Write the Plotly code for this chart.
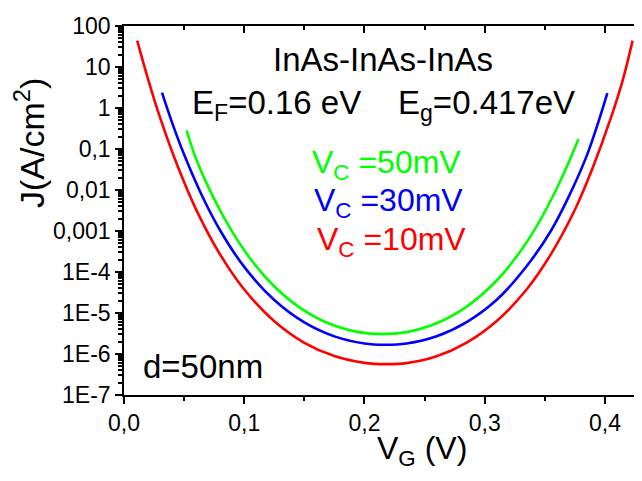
import plotly.graph_objects as go

# ---- data (V_G in V, J in A/cm^2) ----
vg_10 = [0.011, 0.020, 0.030, 0.045, 0.060, 0.080, 0.100, 0.125, 0.150, 0.175, 0.200, 0.217,
         0.235, 0.260, 0.285, 0.310, 0.335, 0.355, 0.375, 0.390, 0.405, 0.415, 0.423]
j_10 = [44, 5.05, 0.58, 0.0357, 0.00333, 2.65e-4, 3.74e-5, 6.28e-6, 1.88e-6, 8.9e-7, 6.08e-7, 5.66e-7,
        6.0e-7, 8.8e-7, 1.9e-6, 6.4e-6, 3.8e-5, 2.7e-4, 3.3e-3, 0.036, 0.58, 5.0, 44]

vg_30 = [0.0316, 0.040, 0.050, 0.065, 0.080, 0.100, 0.125, 0.150, 0.175, 0.200, 0.217,
         0.235, 0.260, 0.285, 0.310, 0.335, 0.355, 0.370, 0.385, 0.395, 0.402]
j_30 = [2.37, 0.44, 0.073, 0.00714, 1.03e-3, 1.33e-4, 2.07e-5, 5.89e-6, 2.69e-6, 1.80e-6, 1.68e-6,
        1.8e-6, 2.7e-6, 6.0e-6, 2.1e-5, 1.4e-4, 1.0e-3, 7.0e-3, 0.07, 0.5, 2.3]

vg_50 = [0.052, 0.060, 0.070, 0.085, 0.100, 0.120, 0.145, 0.170, 0.195, 0.215,
         0.235, 0.260, 0.285, 0.310, 0.330, 0.345, 0.360, 0.370, 0.378]
j_50 = [0.285, 0.0568, 0.0121, 1.71e-3, 3.38e-4, 6.30e-5, 1.43e-5, 5.6e-6, 3.42e-6, 3.05e-6,
        3.42e-6, 5.6e-6, 1.43e-5, 6.2e-5, 3.3e-4, 1.6e-3, 0.011, 0.048, 0.175]

x_ticks = [0.0, 0.1, 0.2, 0.3, 0.4]
y_ticks = [1e-7, 1e-6, 1e-5, 1e-4, 1e-3, 1e-2, 1e-1, 1, 10, 100]
y_ticktext = ['1E-7', '1E-6', '1E-5', '1E-4', '0,001', '0,01', '0,1', '1', '10', '100']
y_minor = [m * d for d in [1e-7, 1e-6, 1e-5, 1e-4, 1e-3, 1e-2, 1e-1, 1, 10] for m in range(2, 10)]

FONT = "Liberation Sans, Arial, sans-serif"
W, H = 642, 481
OFF = 8  # page body margin of the browser
# plot area in screen pixels
L_S, R_S, T_S, B_S = 124, 641.5, 13, 395
L, R, T, B = L_S - OFF, R_S - OFF, T_S - OFF, B_S - OFF


def px(x):
    return (x - OFF - L) / (R - L)


def py(y):
    return (B - (y - OFF)) / (B - T)


fig = go.Figure()
fig.add_trace(go.Scatter(x=vg_10, y=j_10, mode='lines', line=dict(color='#FF0000', width=2.6, shape='spline'),
                         showlegend=False))
fig.add_trace(go.Scatter(x=vg_30, y=j_30, mode='lines', line=dict(color='#0000FF', width=2.6, shape='spline'),
                         showlegend=False))
fig.add_trace(go.Scatter(x=vg_50, y=j_50, mode='lines', line=dict(color='#00FF00', width=2.6, shape='spline'),
                         showlegend=False))
fig.add_trace(go.Scatter(x=[None], y=[None], xaxis='x2', yaxis='y2', showlegend=False))

axis_common = dict(showgrid=False, zeroline=False, showline=True, linecolor='black', linewidth=1.5,
                   tickcolor='black', tickwidth=1.5)

fig.update_layout(
    width=W, height=H,
    margin=dict(l=L, r=W - R, t=T, b=H - B, pad=0),
    plot_bgcolor='white', paper_bgcolor='white',
    separators=',.',
    font=dict(family=FONT, size=23, color='black'),
    xaxis=dict(range=[0, 0.43], tickmode='array', tickvals=x_ticks, tickformat='.1f',
               ticks='outside', ticklen=7,
               minor=dict(ticks='outside', ticklen=4, dtick=0.05, tick0=0, tickcolor='black', tickwidth=1.5),
               tickfont=dict(size=23), ticklabeloverflow='allow', **axis_common),
    yaxis=dict(type='log', range=[-7, 2], tickmode='array', tickvals=y_ticks, ticktext=y_ticktext,
               ticks='outside', ticklen=7,
               minor=dict(ticks='outside', ticklen=4, tickmode='array', tickvals=y_minor,
                          tickcolor='black', tickwidth=1.5),
               tickfont=dict(size=23), ticklabeloverflow='allow', **axis_common),
    xaxis2=dict(overlaying='x', side='top', matches='x', range=[0, 0.43], tickmode='array', tickvals=x_ticks,
                ticks='inside', ticklen=7, showticklabels=False,
                minor=dict(ticks='inside', ticklen=4, dtick=0.05, tick0=0, tickcolor='black', tickwidth=1.5),
                **axis_common),
    yaxis2=dict(overlaying='y', side='right', type='log', range=[-7, 2], tickmode='array', tickvals=y_ticks,
                ticks='inside', ticklen=7, showticklabels=False,
                minor=dict(ticks='inside', ticklen=4, tickmode='array', tickvals=y_minor,
                           tickcolor='black', tickwidth=1.5),
                **axis_common),
)

ann = []


def add(text, x, y, size=31, color='black', xanchor='center', yanchor='middle', angle=0):
    ann.append(dict(text=text, x=px(x), y=py(y), xref='paper', yref='paper', showarrow=False,
                    xanchor=xanchor, yanchor=yanchor, textangle=angle,
                    font=dict(family=FONT, size=size, color=color)))


add('InAs-InAs-InAs', 383, 48, size=33)
add('E<sub>F</sub>=0.16 eV', 190, 95, size=33, xanchor='left')
add('E<sub>g</sub>=0.417eV', 396, 95, size=33, xanchor='left')
add('V<sub>C</sub> =50mV', 310, 156, size=32, color='#00FF00', xanchor='left')
add('V<sub>C</sub> =30mV', 312, 196, size=32, color='#0000FF', xanchor='left')
add('V<sub>C</sub> =10mV', 315, 236, size=32, color='#FF0000', xanchor='left')
add('d=50nm', 141, 365, size=33, xanchor='left')
add('V<sub>G</sub> (V)', 422, 452, size=32)
add('J(A/cm<sup>2</sup>)', 30, 134, size=34, angle=-90)
fig.update_layout(annotations=ann)

fig.write_html("out.html")
